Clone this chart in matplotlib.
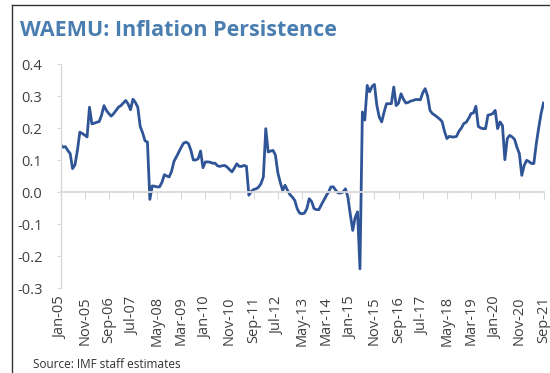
import matplotlib
matplotlib.use("Agg")
import matplotlib.pyplot as plt
from matplotlib.lines import Line2D
import pandas as pd

# Monthly inflation persistence estimates, Jan-2005 .. Sep-2021
persistence = [
    0.148, 0.140, 0.142, 0.130, 0.120, 0.073, 0.085, 0.130, 0.187, 0.183,
    0.178, 0.172, 0.265, 0.213, 0.215, 0.218, 0.220, 0.240, 0.270, 0.255,
    0.245, 0.237, 0.245, 0.255, 0.265, 0.270, 0.278, 0.286, 0.275, 0.257,
    0.290, 0.280, 0.265, 0.205, 0.185, 0.160, 0.156, -0.023, 0.019, 0.018,
    0.016, 0.016, 0.030, 0.054, 0.050, 0.047, 0.065, 0.096, 0.110, 0.125,
    0.140, 0.153, 0.156, 0.151, 0.130, 0.100, 0.100, 0.104, 0.128, 0.076,
    0.094, 0.094, 0.093, 0.090, 0.090, 0.082, 0.080, 0.082, 0.083, 0.078,
    0.070, 0.063, 0.075, 0.088, 0.080, 0.080, 0.083, 0.080, -0.010, 0.002,
    0.008, 0.010, 0.015, 0.026, 0.047, 0.198, 0.125, 0.128, 0.130, 0.115,
    0.060, 0.030, 0.005, 0.021, 0.005, -0.008, -0.016, -0.026, -0.052, -0.066,
    -0.068, -0.066, -0.052, -0.021, -0.030, -0.052, -0.055, -0.055, -0.040, -0.026,
    -0.012, 0.000, 0.016, 0.016, 0.005, -0.003, -0.003, 0.000, 0.010, -0.016,
    -0.070, -0.120, -0.080, -0.062, -0.240, 0.250, 0.225, 0.333, 0.313, 0.330,
    0.336, 0.270, 0.234, 0.219, 0.250, 0.276, 0.276, 0.276, 0.328, 0.270,
    0.278, 0.307, 0.290, 0.278, 0.280, 0.284, 0.286, 0.289, 0.289, 0.288,
    0.310, 0.323, 0.300, 0.255, 0.245, 0.240, 0.234, 0.228, 0.220, 0.190,
    0.167, 0.174, 0.172, 0.172, 0.174, 0.190, 0.200, 0.214, 0.218, 0.230,
    0.245, 0.247, 0.268, 0.205, 0.200, 0.198, 0.198, 0.240, 0.242, 0.245,
    0.255, 0.198, 0.219, 0.208, 0.101, 0.167, 0.177, 0.172, 0.165, 0.140,
    0.120, 0.052, 0.083, 0.099, 0.095, 0.089, 0.089, 0.150, 0.200, 0.245,
    0.278,
]
months = pd.date_range("2005-01-01", periods=len(persistence), freq="MS")
month_labels = [d.strftime("%b-%y") for d in months]
tick_every = 10
y_ticks = [0.4, 0.3, 0.2, 0.1, 0.0, -0.1, -0.2, -0.3]

LINE = "#2F5597"
TITLE = "#4A7DB0"
TEXT = "#404040"
AXIS = "#D9D9D9"
FONT = "Open Sans"

fig = plt.figure(figsize=(5.5, 3.73), dpi=100)
W, H = 550, 373
ax = fig.add_axes([60.5 / W, 1 - 288 / H, (543.5 - 60.5) / W, (288 - 64) / H])

x = list(range(len(persistence)))
ax.plot(x, persistence, color=LINE, lw=2.0, solid_joinstyle="round")

ax.set_xlim(0, len(persistence) - 1)
ax.set_ylim(-0.3, 0.4)

# y axis
ax.set_yticks(y_ticks)
ax.set_yticklabels([f"{v:.1f}" for v in y_ticks], fontsize=10.5, color=TEXT,
                   family=FONT)
ax.tick_params(axis="y", length=3, color=AXIS, pad=10)
ax.spines["left"].set_color(AXIS)
ax.spines["left"].set_linewidth(1.0)
for s in ("top", "right"):
    ax.spines[s].set_visible(False)

# zero line with tick marks, labels along the bottom
tick_pos = x[::tick_every]
ax.spines["bottom"].set_position(("data", 0))
ax.spines["bottom"].set_color(AXIS)
ax.spines["bottom"].set_linewidth(1.3)
ax.set_xticks(tick_pos)
ax.tick_params(axis="x", direction="out", length=5, color=AXIS,
               labelbottom=False)

sec = ax.secondary_xaxis(0.0)
sec.set_xticks(tick_pos)
sec.set_xticklabels(month_labels[::tick_every], rotation=90, fontsize=10.5,
                    color=TEXT, family=FONT)
sec.tick_params(length=0, pad=6)
sec.spines["bottom"].set_visible(False)

fig.text(20 / W, 1 - 31 / H, "WAEMU: Inflation Persistence", color=TITLE,
         fontsize=15.5, fontweight="bold", family=FONT, va="center", ha="left")
fig.text(33 / W, 1 - 364 / H, "Source: IMF staff estimates", color="#303030",
         fontsize=8.5, family=FONT, va="center", ha="left")

# panel frame
fig.add_artist(Line2D([12 / W, 12 / W], [0, 1 - 5 / H], color="#333333", lw=1.0))
fig.add_artist(Line2D([12 / W, 1], [1 - 5 / H, 1 - 5 / H], color="#333333", lw=1.0))

fig.savefig("out.png", dpi=100)
